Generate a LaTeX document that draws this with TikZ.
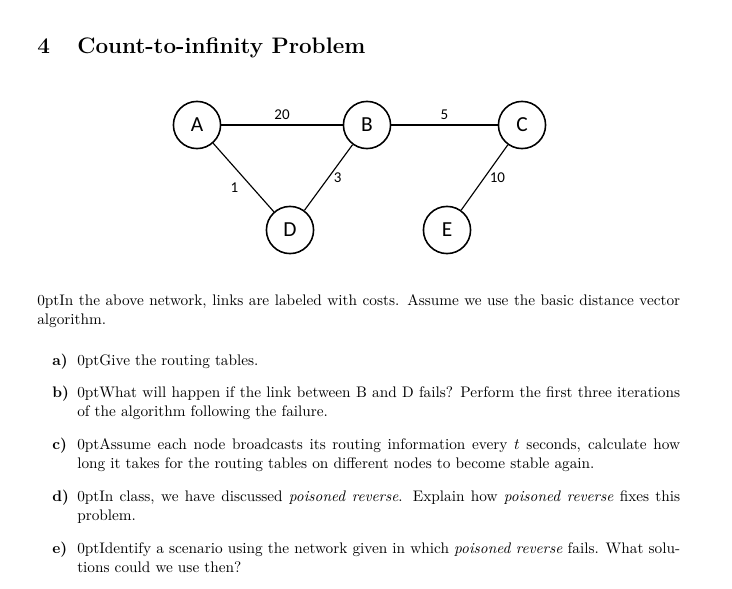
\documentclass[tikz,border=0pt]{standalone}
\usepackage{fontspec}
\newfontfamily\netfont{Carlito}
\begin{document}
\begin{tikzpicture}[x=0.7pt,y=-0.7pt,
		router/.style={draw, line width=1.1pt, circle, minimum size=33pt, inner sep=0pt, font=\netfont\fontsize{15}{17}\selectfont},
		cost/.style={font=\netfont\fontsize{10.5}{12}\selectfont},
		para/.style={anchor=north west, inner sep=0pt, align=justify, font=\fontsize{10.7}{13.3}\selectfont\hyphenpenalty=10000},
		itemlabel/.style={anchor=north west, inner sep=0pt, font=\fontsize{10.7}{13.3}\selectfont\bfseries}]
	\useasboundingbox (0,0) rectangle (732,588);
	% heading
	\node[anchor=base west, inner sep=0pt, font=\fontsize{15.7}{19}\selectfont\bfseries] (num) at (37,53) {4};
	\node[anchor=base west, inner sep=0pt, font=\fontsize{15.7}{19}\selectfont\bfseries] (title) at (77,53) {Count-to-infinity Problem};
	% network
	\node[router] (A) at (197,125) {A};
	\node[router] (B) at (367,125) {B};
	\node[router] (C) at (522,125) {C};
	\node[router] (D) at (290,230) {D};
	\node[router] (E) at (447,230) {E};
	\draw[line width=0.8pt] (A) -- node[cost, above] {20} (B);
	\draw[line width=0.8pt] (B) -- node[cost, above] {5} (C);
	\draw[line width=0.8pt] (A) -- node[cost, below left] {1} (D);
	\draw[line width=0.8pt] (B) -- node[cost, right] {3} (D);
	\draw[line width=0.8pt] (C) -- node[cost, right] {10} (E);
	% text
	\node[para, text width=450pt] (intro) at (37,294) {In the above network, links are labeled with costs. Assume we use the basic distance vector algorithm.};
	\foreach \lab/\y/\txt in {
		a)/354/{Give the routing tables.},
		b)/386/{What will happen if the link between B and D fails? Perform the first three iterations of the algorithm following the failure.},
		c)/438/{Assume each node broadcasts its routing information every $t$ seconds, calculate how long it takes for the routing tables on different nodes to become stable again.},
		d)/490/{In class, we have discussed \emph{poisoned reverse}. Explain how \emph{poisoned reverse} fixes this problem.},
		e)/542/{Identify a scenario using the network given in which \emph{poisoned reverse} fails. What solutions could we use then?}} {
		\node[itemlabel] (lab-\lab) at (52,\y) {\lab};
		\node[para, text width=422pt] (item-\lab) at (77,\y) {\txt};
	}
\end{tikzpicture}
\end{document}
